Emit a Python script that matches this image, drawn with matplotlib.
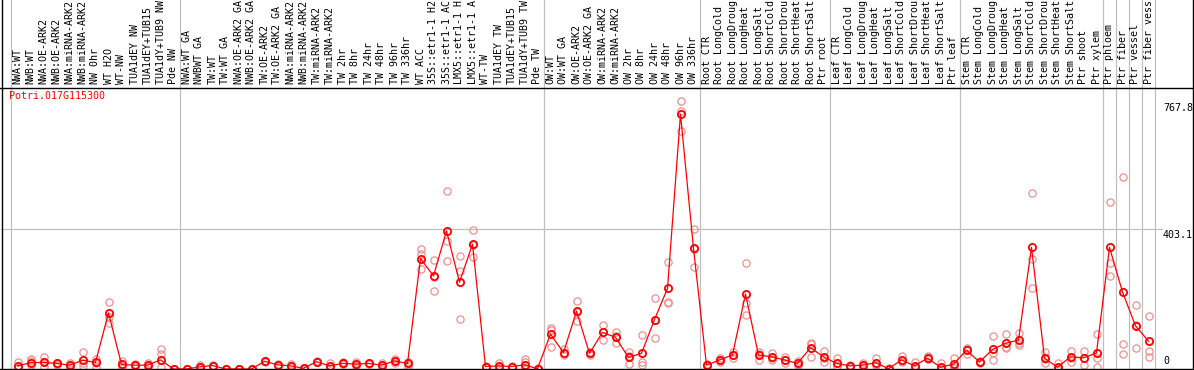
import numpy as np
import matplotlib
matplotlib.use("Agg")
import matplotlib.pyplot as plt
from matplotlib.lines import Line2D

# ---------------------------------- DATA ----------------------------------
gene = "Potri.017G115300"

samples = [
    "NWA:WT", "NWB:WT", "NWA:OE-ARK2", "NWB:OE-ARK2", "NWA:miRNA-ARK2", "NWB:miRNA-ARK2",
    "NW 0hr", "WT H2O", "WT-NW", "TUA1dEY NW", "TUA1dEY+TUB15", "TUA1dY+TUB9 NW", "Pde NW",
    "NWA:WT GA", "NWBWT GA", "TW:WT", "TW:WT GA", "NWA:OE-ARK2 GA", "NWB:OE-ARK2 GA",
    "TW:OE-ARK2", "TW:OE-ARK2 GA", "NWA:miRNA-ARK2", "NWB:miRNA-ARK2", "TW:miRNA-ARK2",
    "TW:miRNA-ARK2", "TW 2hr", "TW 8hr", "TW 24hr", "TW 48hr", "TW 96hr", "TW 336hr",
    "WT ACC", "35S::etr1-1 H2", "35S::etr1-1 AC", "LMX5::etr1-1 H", "LMX5::etr1-1 A",
    "WT-TW", "TUA1dEY TW", "TUA1dEY+TUB15", "TUA1dY+TUB9 TW", "Pde TW",
    "OW:WT", "OW:WT GA", "OW:OE-ARK2", "OW:OE-ARK2 GA", "OW:miRNA-ARK2", "OW:miRNA-ARK2",
    "OW 2hr", "OW 8hr", "OW 24hr", "OW 48hr", "OW 96hr", "OW 336hr",
    "Root CTR", "Root LongCold", "Root LongDroug", "Root LongHeat", "Root LongSalt",
    "Root ShortCold", "Root ShortDrou", "Root ShortHeat", "Root ShortSalt", "Ptr root",
    "Leaf CTR", "Leaf LongCold", "Leaf LongDroug", "Leaf LongHeat", "Leaf LongSalt",
    "Leaf ShortCold", "Leaf ShortDrou", "Leaf ShortHeat", "Leaf ShortSalt", "Ptr leaf",
    "Stem CTR", "Stem LongCold", "Stem LongDroug", "Stem LongHeat", "Stem LongSalt",
    "Stem ShortCold", "Stem ShortDrou", "Stem ShortHeat", "Stem ShortSalt", "Ptr shoot",
    "Ptr xylem", "Ptr phloem", "Ptr fiber", "Ptr vessel", "Ptr fiber vess",
]

mean_expr = [
    9, 18, 19, 16, 11, 25, 19, 161, 13, 11, 11, 26, 0,
    0, 6, 10, 0, 0, 0, 22, 12, 9, 2, 21, 9, 16, 14, 16, 11, 23, 16,
    317, 267, 396, 249, 358, 7, 9, 7, 12, 1,
    100, 47, 166, 45, 105, 91, 33, 45, 142, 231, 731, 346,
    11, 26, 40, 215, 40, 35, 26, 16, 61, 35,
    16, 9, 11, 18, 1, 26, 9, 31, 5, 14,
    54, 20, 56, 74, 83, 349, 31, 5, 35, 32, 46,
    349, 221, 124, 80,
]

rep_a = [
    21, 28, 33, 18, 16, 49, 30, 192, 23, 13, 16, 56, 0,
    0, 11, 12, 0, 0, 0, 24, 14, 13, 3, 23, 16, 19, 20, 18, 18, 30, 20,
    343, 313, 510, 324, 399, 7, 18, 9, 30, 1,
    119, 56, 195, 40, 126, 105, 50, 98, 203, 308, 767.8, 401,
    11, 31, 50, 303, 50, 47, 34, 24, 76, 53,
    31, 11, 18, 31, 2, 37, 19, 37, 16, 31,
    61, 24, 95, 100, 104, 504, 49, 16, 52, 52, 100,
    478, 551, 183, 152,
]

rep_b = [
    7, 24, 19, 13, 7, 9, 18, 148, 9, 9, 7, 43, 0,
    0, 5, 10, 0, 0, 0, 20, 10, 8, 1, 20, 8, 15, 12, 15, 9, 22, 12,
    286, 224, 367, 282, 320, 6, 6, 6, 21, 0,
    62, 39, 139, 48, 83, 74, 13, 21, 88, 193, 684, 293,
    9, 21, 31, 190, 26, 26, 18, 12, 35, 21,
    8, 7, 8, 12, 0, 22, 5, 28, 1, 8,
    43, 17, 26, 59, 69, 315, 16, 0, 21, 12, 31,
    304, 73, 60, 51,
]

rep_c = [
    2, 11, 7, 11, 5, 18, 7, 133, 7, 11, 9, 7, 0,
    0, 2, 8, 0, 0, 0, 22, 12, 6, 2, 21, 4, 14, 10, 14, 6, 17, 6,
    330, 265, 309, 143, 355, 8, 4, 6, 2, 2,
    112, 45, 164, 47, 106, 94, 36, 11, 140, 190, 741, 344,
    13, 26, 39, 155, 44, 32, 26, 12, 72, 31,
    9, 9, 7, 11, 1, 19, 3, 28, 0, 3,
    58, 19, 47, 63, 76, 231, 28, 0, 32, 32, 5,
    267, 44, 125, 33,
]

group_edges = [0.5, 13.5, 41.5, 53.5, 63.5, 73.5, 84.5, 85.5, 86.5, 87.5, 88.5]

# ---------------------------------- FIGURE ----------------------------------
W, H = 1194, 370
fig = plt.figure(figsize=(W / 100, H / 100), dpi=100)
fig.patch.set_facecolor("white")

y_top_px, y_bot_px = 88, 369
x_left_px, x_right_px = 11, 1155
ax = fig.add_axes([x_left_px / W, (H - y_bot_px) / H,
                   (x_right_px - x_left_px) / W, (y_bot_px - y_top_px) / H])

x = np.arange(1, len(samples) + 1)
ymax = max(max(rep_a), max(mean_expr))
ax.set_xlim(0.5, len(samples) + 0.5)
ax.set_ylim(0, ymax * 1.05)

mono = "DejaVu Sans Mono"
fs = 7.2

# separators and mid gridline
above = y_bot_px / (y_bot_px - y_top_px)
for e in group_edges:
    ax.axvline(e, 0, above, color="#c0c0c0", lw=0.9, clip_on=False, zorder=0)
mid = ymax * 1.05 / 2
ax.axhline(mid, -10 / 1144, (1162 - x_left_px) / 1144, color="#c0c0c0", lw=0.9,
           clip_on=False, zorder=0)

# replicates
for rep in (rep_a, rep_b, rep_c):
    ax.plot(x, rep, ls="none", marker="o", ms=5.2, mfc="none", mec="#ec9090",
            mew=0.9, zorder=2)

# mean line
ax.plot(x, mean_expr, color="#ff0000", lw=0.9, marker="o", ms=5.2, mfc="none",
        mec="#ff0000", mew=1.3, zorder=3)

# labels along the top
ax.xaxis.tick_top()
ax.set_xticks(x)
ax.set_xticklabels(samples, rotation=90, fontsize=fs, family=mono)
ax.tick_params(axis="x", length=0, pad=3)
ax.set_yticks([])
for s in ax.spines.values():
    s.set_visible(False)

# right-hand value labels
for val, dy, va in ((ymax, -2, "top"), (mid, -1, "top"), (0, 3, "bottom")):
    txt = f"{val:.1f}" if val else "0"
    ax.annotate(txt, xy=((1163 - x_left_px) / 1144, val), xycoords=("axes fraction", "data"),
                xytext=(0, dy), textcoords="offset pixels", ha="left", va=va,
                fontsize=fs, family=mono, annotation_clip=False)

fig.text(9 / W, 1 - 96 / H, gene, color="#ff0000", fontsize=fs, family=mono,
         ha="left", va="center")

# black frame lines
def hline(ypx, x0, x1):
    fig.add_artist(Line2D([x0 / W, x1 / W], [1 - ypx / H, 1 - ypx / H],
                          color="black", lw=1.0, transform=fig.transFigure))

def vline(xpx, y0, y1):
    fig.add_artist(Line2D([xpx / W, xpx / W], [1 - y0 / H, 1 - y1 / H],
                          color="black", lw=1.0, transform=fig.transFigure))

hline(88, 0, W)
hline(369, 0, W)
vline(1.5, 0, H)
vline(1193, 0, H)

fig.savefig("out.png", dpi=100)
